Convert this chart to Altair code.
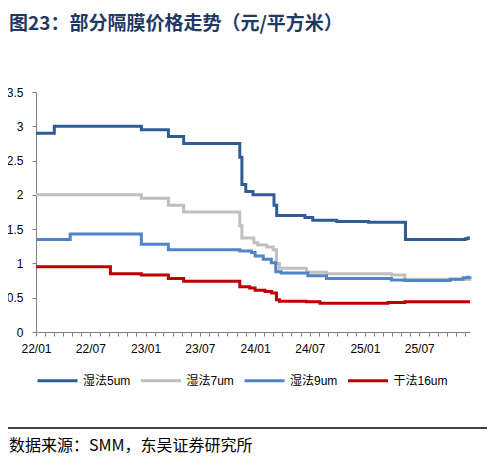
import altair as alt
import pandas as pd

series_names = ["湿法5um", "湿法7um", "湿法9um", "干法16um"]
series_colors = ["#2F5C96", "#BFBFBF", "#4F84C6", "#C00000"]

d5_dates = ["2022-01-01", "2022-03-03", "2022-12-18", "2023-03-18", "2023-05-08",
            "2023-11-11", "2023-11-18", "2023-12-01", "2023-12-25", "2024-03-04",
            "2024-03-13", "2024-06-15", "2024-07-11", "2024-09-29", "2025-01-13",
            "2025-05-16", "2025-12-01", "2025-12-10", "2025-12-17"]
d5_vals = [2.90, 3.00, 2.95, 2.85, 2.75,
           2.55, 2.15, 2.05, 2.00, 1.85,
           1.70, 1.67, 1.63, 1.61, 1.60,
           1.35, 1.36, 1.37, 1.37]

d7_dates = ["2022-01-01", "2022-12-18", "2023-03-18", "2023-05-08", "2023-11-11",
            "2023-11-18", "2023-12-28", "2024-01-10", "2024-02-09", "2024-03-01",
            "2024-03-12", "2024-03-22", "2024-06-20", "2024-08-26", "2025-03-30",
            "2025-05-14", "2025-12-17"]
d7_vals = [2.00, 1.95, 1.85, 1.75, 1.55,
           1.37, 1.30, 1.27, 1.24, 1.20,
           1.00, 0.93, 0.87, 0.85, 0.83,
           0.77, 0.78]

d9_dates = ["2022-01-01", "2022-04-25", "2022-12-18", "2023-03-18", "2023-11-11",
            "2023-12-20", "2024-01-01", "2024-01-28", "2024-02-24", "2024-03-10",
            "2024-03-28", "2024-06-25", "2024-08-26", "2025-03-30", "2025-05-14",
            "2025-10-12", "2025-11-24", "2025-12-10", "2025-12-17"]
d9_vals = [1.35, 1.43, 1.28, 1.20, 1.18,
           1.16, 1.11, 1.06, 1.01, 0.88,
           0.86, 0.82, 0.78, 0.76, 0.75,
           0.77, 0.79, 0.80, 0.81]

d16_dates = ["2022-01-01", "2022-09-06", "2022-12-18", "2023-03-18", "2023-05-08",
             "2023-11-11", "2023-12-14", "2024-01-01", "2024-02-03", "2024-02-25",
             "2024-03-12", "2024-03-22", "2024-06-20", "2024-08-04", "2025-03-19",
             "2025-05-14", "2025-12-17"]
d16_vals = [0.95, 0.85, 0.83, 0.78, 0.74,
            0.66, 0.64, 0.61, 0.59, 0.57,
            0.47, 0.45, 0.44, 0.42, 0.43,
            0.44, 0.44]

y_ticks = [0, 0.5, 1, 1.5, 2, 2.5, 3, 3.5]
title_text = "图23：部分隔膜价格走势（元/平方米）"
source_text = "数据来源：SMM，东吴证券研究所"

rows = []
for name, ds, vs in zip(series_names, [d5_dates, d7_dates, d9_dates, d16_dates],
                        [d5_vals, d7_vals, d9_vals, d16_vals]):
    for d, v in zip(ds, vs):
        rows.append({"series": name, "date": d, "value": v})
df = pd.DataFrame(rows)

month_ticks = [alt.DateTime(year=2022 + i // 12, month=i % 12 + 1, date=1, utc=True) for i in range(48)]

LABEL_FONT = "Liberation Sans, Noto Sans CJK SC"

lines = alt.Chart(df).mark_line(interpolate="step-after", strokeWidth=3).encode(
    x=alt.X("date:T",
            scale=alt.Scale(type="utc",
                            domain=[alt.DateTime(year=2022, month=1, date=1, utc=True),
                                    alt.DateTime(year=2025, month=12, date=17, utc=True)]),
            axis=alt.Axis(values=month_ticks,
                          labelExpr="utcmonth(datum.value) % 6 == 0 ? utcFormat(datum.value, '%y/%m') : ''",
                          title=None, grid=False, tickSize=4, labelFontSize=12,
                          labelFont=LABEL_FONT, labelColor="#000000",
                          domainColor="#808080", tickColor="#808080",
                          labelPadding=7, labelOverlap=False, labelFlush=False)),
    y=alt.Y("value:Q",
            scale=alt.Scale(domain=[0, 3.5], nice=False, zero=True),
            axis=alt.Axis(values=y_ticks, format="~g", title=None, grid=False,
                          tickSize=4, labelFontSize=12, labelFont=LABEL_FONT,
                          labelColor="#000000", domainColor="#808080",
                          tickColor="#808080", labelPadding=9)),
    color=alt.Color("series:N",
                    scale=alt.Scale(domain=series_names, range=series_colors),
                    legend=alt.Legend(title=None, orient="none", legendX=0, legendY=267,
                                      direction="horizontal", columns=4,
                                      symbolType="stroke", symbolSize=1600,
                                      symbolStrokeWidth=3, labelFontSize=12,
                                      labelFont=LABEL_FONT, labelColor="#000000",
                                      labelOffset=4, columnPadding=-3.5, gridAlign="all")),
    detail="series:N",
)

rule_df = pd.DataFrame({"k": [0]})
rule = alt.Chart(rule_df).mark_rule(color="#000000", strokeWidth=1.5).encode(
    x=alt.value(-28), x2=alt.value(454), y=alt.value(336))

src_df = pd.DataFrame({"t": [source_text]})
src = alt.Chart(src_df).mark_text(align="left", baseline="middle", fontSize=16,
                                  font="Noto Sans CJK SC", color="#000000").encode(
    text="t:N", x=alt.value(-27), y=alt.value(354))

chart = alt.layer(lines, rule, src).properties(
    width=434, height=240,
    autosize=alt.AutoSizeParams(type="none"),
    padding={"left": 28, "top": 84, "right": 17, "bottom": 127},
    title=alt.TitleParams(title_text, anchor="start", frame="group", dx=-27, offset=52,
                          fontSize=19, font="Noto Sans CJK SC", fontWeight="bold",
                          color="#1F3864"),
).configure_view(stroke=None)

chart.save("out.html", embed_options={"renderer": "svg", "actions": False})
